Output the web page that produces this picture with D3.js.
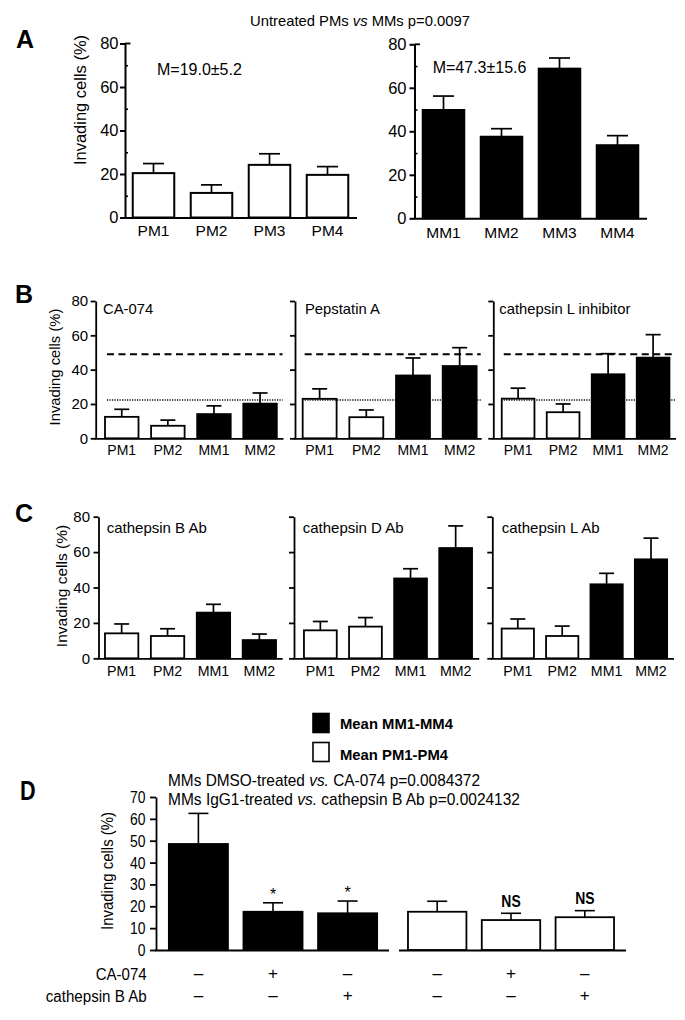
<!DOCTYPE html>
<html><head><meta charset="utf-8">
<script src="https://cdn.jsdelivr.net/npm/d3@7"></script>
<style>
body{margin:0;background:#fff}
svg{display:block;background:#fff}
text{font-family:"Liberation Sans",Arial,Helvetica,sans-serif;fill:#000}
</style>
</head><body>
<svg id="c" width="685" height="1020"></svg>
<script>
// ---------------- DATA ----------------
const aTitle = ["Untreated PMs ", "vs", " MMs p=0.0097"];
const pmLabels = ["PM1", "PM2", "PM3", "PM4"];
const pmValues = [20.4, 11.3, 24.2, 19.6];
const pmErrors = [4.4, 3.7, 5.1, 3.8];
const pmMeanText = "M=19.0±5.2";
const mmLabels = ["MM1", "MM2", "MM3", "MM4"];
const mmValues = [49.8, 37.5, 68.8, 33.6];
const mmErrors = [6.4, 3.7, 4.9, 4.4];
const mmMeanText = "M=47.3±15.6";
const aTicks = [0, 20, 40, 60, 80];
const aMinorTicks = [10, 30, 50, 70];

const bcCategories = ["PM1", "PM2", "MM1", "MM2"];
const bcGroups = ["PM", "PM", "MM", "MM"];
const bTitles = ["CA-074", "Pepstatin A", "cathepsin L inhibitor"];
const bValues = [[12.5, 7.3, 14.1, 20.2], [23.0, 12.3, 36.6, 42.1], [23.1, 15.2, 37.3, 47.0]];
const bErrors = [[4.4, 3.3, 4.8, 6.2], [5.8, 4.2, 10.2, 10.7], [6.1, 4.8, 12.0, 13.4]];
const bRefMM = 49.0;   // dashed line
const bRefPM = 22.3;   // dotted line
const cTitles = ["cathepsin B Ab", "cathepsin D Ab", "cathepsin L Ab"];
const cValues = [[14.1, 12.6, 25.8, 10.3], [15.8, 17.9, 45.1, 62.3], [16.8, 12.6, 41.8, 55.9]];
const cErrors = [[5.3, 4.1, 4.7, 3.4], [5.0, 5.1, 5.5, 12.5], [5.4, 5.6, 6.2, 12.0]];
const bcTicks = [0, 20, 40, 60, 80];

const legendLabels = ["Mean MM1-MM4", "Mean PM1-PM4"];
const dTitles = [["MMs DMSO-treated ", "vs.", " CA-074 p=0.0084372"],
                 ["MMs IgG1-treated ", "vs.", " cathepsin B Ab p=0.0024132"]];
const dConditions = ["MM ctrl", "MM CA-074", "MM catB Ab", "PM ctrl", "PM CA-074", "PM catB Ab"];
const dGroups = ["MM", "MM", "MM", "PM", "PM", "PM"];
const dValues = [48.5, 17.5, 16.8, 17.5, 13.7, 15.0];
const dErrors = [14.0, 4.1, 5.6, 4.8, 3.1, 3.0];
const dMarks = ["", "*", "*", "", "NS", "NS"];
const dRowLabels = ["CA-074", "cathepsin B Ab"];
const dRowCA074 = ["–", "+", "–", "–", "+", "–"];
const dRowCatB = ["–", "–", "+", "–", "–", "+"];
const dTicks = [0, 10, 20, 30, 40, 50, 60, 70];
const yLabel = "Invading cells (%)";

// ---------------- HELPERS ----------------
const svg = d3.select("#c");
const FONT = '"Liberation Sans",Arial,Helvetica,sans-serif';

function txt(g, x, y, s, o = {}) {
  const t = g.append("text")
    .attr("transform", `translate(${x},${y})` + (o.rot ? ` rotate(${o.rot})` : "") + (o.sx ? ` scale(${o.sx},1)` : ""))
    .attr("text-anchor", o.anchor || "start")
    .style("font-size", (o.size || 14) + "px")
    .style("font-weight", o.weight || "normal")
    .style("font-family", FONT);
  if (Array.isArray(s)) {
    s.forEach((part, i) => t.append("tspan").style("font-style", i === 1 ? "italic" : "normal").text(part));
  } else t.text(s);
  if (o.len) t.attr("textLength", o.len / (o.sx || 1)).attr("lengthAdjust", "spacingAndGlyphs");
  if (o.dy) t.attr("dy", o.dy);
  return t;
}

function drawPanel(p) {
  const g = svg.append("g");
  const x = d3.scaleBand().domain(p.cats).range([p.x0, p.x1]).paddingInner(p.pad).paddingOuter(p.pad / 2);
  const y = d3.scaleLinear().domain([0, p.max]).range([p.yBottom, p.yTop]);
  const bw = x.bandwidth();
  const sw = p.stroke || 1.8;

  g.selectAll("rect.bar").data(p.cats).join("rect")
    .attr("x", (d) => x(d))
    .attr("y", (d, i) => y(p.values[i]))
    .attr("width", bw)
    .attr("height", (d, i) => y(0) - y(p.values[i]))
    .attr("fill", (d, i) => p.groups[i] === "MM" ? "#000" : "#fff")
    .attr("stroke", "#000").attr("stroke-width", sw);

  const eg = g.append("g").attr("stroke", "#000").attr("stroke-width", p.errW || 1.7);
  p.cats.forEach((c, i) => {
    const cx = x(c) + bw / 2;
    const top = y(p.values[i] + p.errors[i]);
    eg.append("line").attr("x1", cx).attr("x2", cx).attr("y1", y(p.values[i])).attr("y2", top);
    eg.append("line").attr("x1", cx - p.capW / 2).attr("x2", cx + p.capW / 2).attr("y1", top).attr("y2", top);
  });

  if (p.refs) {
    const xs = x(p.cats[0]) + 2, xe = p.axisEnd - 1;
    g.append("line").attr("x1", xs).attr("x2", xe).attr("y1", y(p.refs[0])).attr("y2", y(p.refs[0]))
      .attr("stroke", "#000").attr("stroke-width", 2).attr("stroke-dasharray", "7,4.5");
    g.append("line").attr("x1", xs).attr("x2", xe).attr("y1", y(p.refs[1])).attr("y2", y(p.refs[1]))
      .attr("stroke", "#000").attr("stroke-width", 1.6).attr("stroke-dasharray", "1.2,1.3");
  }

  if (p.axisX != null) {
    const ax = d3.axisLeft(y).tickValues(p.ticks).tickSize(p.tickLen).tickSizeOuter(0).tickPadding(p.tickPad);
    if (!p.showTickLabels) ax.tickFormat("");
    const ag = g.append("g").attr("transform", `translate(${p.axisX},0)`).call(ax);
    ag.selectAll("path,line").attr("stroke", "#000").attr("stroke-width", p.axisW || 1.8);
    ag.selectAll("text").style("font-size", p.tickFont + "px").style("font-family", FONT).attr("fill", "#000");
    if (p.tickSx) {
      ag.selectAll("text").attr("transform", `scale(${p.tickSx},1)`)
        .attr("x", -(p.tickLen + p.tickPad) / p.tickSx);
    }
    if (p.minor) {
      const mx = d3.axisRight(y).tickValues(aMinorTicks).tickSize(3).tickSizeOuter(0).tickFormat("");
      const mg = g.append("g").attr("transform", `translate(${p.axisX},0)`).call(mx);
      mg.select(".domain").remove();
      mg.selectAll("line").attr("stroke", "#000").attr("stroke-width", 1.6);
      g.append("line").attr("x1", p.axisX).attr("x2", p.axisX + 5.5).attr("y1", y(p.max)).attr("y2", y(p.max))
        .attr("stroke", "#000").attr("stroke-width", 1.8);
    }
  }
  g.append("line").attr("x1", p.baseStart != null ? p.baseStart : p.axisX - 1).attr("x2", p.axisEnd)
    .attr("y1", y(0) + 0.5).attr("y2", y(0) + 0.5).attr("stroke", "#000").attr("stroke-width", p.axisW || 1.8);

  if (p.showXLabels !== false) {
    p.cats.forEach((c) => {
      txt(g, x(c) + bw / 2, p.labelY, c, { anchor: "middle", size: p.labelFont });
    });
  }
  return { g, x, y, bw };
}

// ---------------- PANEL A ----------------
txt(svg, 360, 26, aTitle, { anchor: "middle", size: 14.5, len: 220 });
txt(svg, 16, 48, "A", { size: 25, weight: "bold" });
txt(svg, 80, 100, yLabel, { anchor: "middle", size: 16.5, rot: -90, dy: "0.35em" });

drawPanel({ cats: pmLabels, values: pmValues, errors: pmErrors, groups: pmLabels.map(() => "PM"),
  x0: 124.5, x1: 356.5, pad: 0.284, axisX: 125, axisEnd: 357, yBottom: 217.5, yTop: 43.5, max: 80,
  ticks: aTicks, tickLen: 5, tickPad: 1.5, tickFont: 16.5, showTickLabels: true, minor: true,
  labelFont: 15.5, labelY: 236, capW: 21, stroke: 2, axisW: 2 });
txt(svg, 157, 75, pmMeanText, { size: 16 });

drawPanel({ cats: mmLabels, values: mmValues, errors: mmErrors, groups: mmLabels.map(() => "MM"),
  x0: 414.5, x1: 646.5, pad: 0.284, axisX: 414.5, axisEnd: 647, yBottom: 218.3, yTop: 44.3, max: 80,
  ticks: aTicks, tickLen: 5, tickPad: 3, tickFont: 16.5, showTickLabels: true, minor: true,
  labelFont: 15.5, labelY: 238, capW: 21, stroke: 2, axisW: 2 });
txt(svg, 432.7, 73, mmMeanText, { size: 16 });

// ---------------- PANEL B ----------------
txt(svg, 15, 303, "B", { size: 25, weight: "bold" });
txt(svg, 55, 367, yLabel, { anchor: "middle", size: 14.8, rot: -90, dy: "0.35em" });
const bLayout = [
  { x0: 98.7, x1: 283.1, axisX: 95.7, axisEnd: 283.5, tx: 103, labels: true },
  { x0: 296.3, x1: 483.0, axisX: 295, axisEnd: 481.7, tx: 305, labels: false },
  { x0: 495.6, x1: 675.6, axisX: 493.3, axisEnd: 676, tx: 499.3, labels: false }
];
bLayout.forEach((L, k) => {
  drawPanel({ cats: bcCategories, values: bValues[k], errors: bErrors[k], groups: bcGroups,
    x0: L.x0, x1: L.x1, pad: 0.273, axisX: L.axisX, axisEnd: L.axisEnd, yBottom: 438.3, yTop: 301, max: 80,
    ticks: bcTicks, tickLen: 5, tickPad: 2.5, tickFont: 15, showTickLabels: L.labels,
    labelFont: 14, labelY: 455, capW: 15, refs: [bRefMM, bRefPM] });
  txt(svg, L.tx, 313.5, bTitles[k], { size: 14.8 });
});

// ---------------- PANEL C ----------------
txt(svg, 15, 522, "C", { size: 25, weight: "bold" });
txt(svg, 61.5, 586, yLabel, { anchor: "middle", size: 15.5, rot: -90, dy: "0.35em" });
const cLayout = [
  { x0: 98.7, x1: 282.3, axisX: 98.5, axisEnd: 282.7, tx: 106.7, labels: true },
  { x0: 297.8, x1: 478.2, axisX: 294, axisEnd: 479.3, tx: 302.7, labels: false },
  { x0: 495.6, x1: 673.2, axisX: 492.3, axisEnd: 674, tx: 501.7, labels: false }
];
cLayout.forEach((L, k) => {
  drawPanel({ cats: bcCategories, values: cValues[k], errors: cErrors[k], groups: bcGroups,
    x0: L.x0, x1: L.x1, pad: 0.273, axisX: L.axisX, axisEnd: L.axisEnd, yBottom: 658.3, yTop: 516.7, max: 80,
    ticks: bcTicks, tickLen: 5, tickPad: 3.5, tickFont: 15, showTickLabels: L.labels,
    labelFont: 14.2, labelY: 676, capW: 15 });
  txt(svg, L.tx, 532.5, cTitles[k], { size: 15 });
});

// ---------------- LEGEND ----------------
const lg = svg.append("g");
lg.selectAll("rect").data(legendLabels).join("rect")
  .attr("x", 313).attr("y", (d, i) => i === 0 ? 713.5 : 742.5)
  .attr("width", 16).attr("height", 19)
  .attr("fill", (d, i) => i === 0 ? "#000" : "#fff")
  .attr("stroke", "#000").attr("stroke-width", 1.6);
legendLabels.forEach((s, i) => {
  txt(lg, 340, i === 0 ? 729 : 759.5, s, { size: 15.5, weight: "bold", sx: 0.82, len: i === 0 ? 113 : 108 });
});

// ---------------- PANEL D ----------------
txt(svg, 20, 800, "D", { size: 27, weight: "bold", sx: 0.8 });
txt(svg, 168, 785.5, dTitles[0], { size: 16, sx: 0.85, len: 312 });
txt(svg, 168, 805, dTitles[1], { size: 16, sx: 0.85, len: 352 });
txt(svg, 107, 871, yLabel, { anchor: "middle", size: 17, rot: -90, dy: "0.35em", sx: 0.82, len: 118 });

const d1 = drawPanel({ cats: dConditions.slice(0, 3), values: dValues.slice(0, 3), errors: dErrors.slice(0, 3),
  groups: dGroups.slice(0, 3), x0: 161.1, x1: 384.9, pad: 0.208, axisX: 156, axisEnd: 389,
  yBottom: 950, yTop: 797, max: 70, ticks: dTicks, tickLen: 6, tickPad: 4.5, tickFont: 17, tickSx: 0.82,
  showTickLabels: true, showXLabels: false, capW: 20, stroke: 1.8, errW: 1.6 });
const d2 = drawPanel({ cats: dConditions.slice(3), values: dValues.slice(3), errors: dErrors.slice(3),
  groups: dGroups.slice(3), x0: 400.3, x1: 621.7, pad: 0.208, axisX: null, baseStart: 399, axisEnd: 626,
  yBottom: 950, yTop: 797, max: 70, ticks: dTicks, showXLabels: false, capW: 20, stroke: 1.8, errW: 1.6 });

const centers = dConditions.map((c, i) => i < 3 ? d1.x(c) + d1.bw / 2 : d2.x(c) + d2.bw / 2);
const ys = d1.y;
dMarks.forEach((m, i) => {
  if (!m) return;
  const top = ys(dValues[i] + dErrors[i]);
  if (m === "*") txt(svg, centers[i], top - 3, m, { anchor: "middle", size: 16 });
  else txt(svg, centers[i], top - 6.5, m, { anchor: "middle", size: 17, weight: "bold", sx: 0.82 });
});
txt(svg, 146.7, 979.5, dRowLabels[0], { anchor: "end", size: 16, sx: 0.82, len: 51 });
txt(svg, 146.7, 1001.5, dRowLabels[1], { anchor: "end", size: 16, sx: 0.82, len: 101 });
dRowCA074.forEach((s, i) => txt(svg, centers[i], 978.5, s, { anchor: "middle", size: 17 }));
dRowCatB.forEach((s, i) => txt(svg, centers[i], 1001, s, { anchor: "middle", size: 17 }));
</script>
</body></html>
